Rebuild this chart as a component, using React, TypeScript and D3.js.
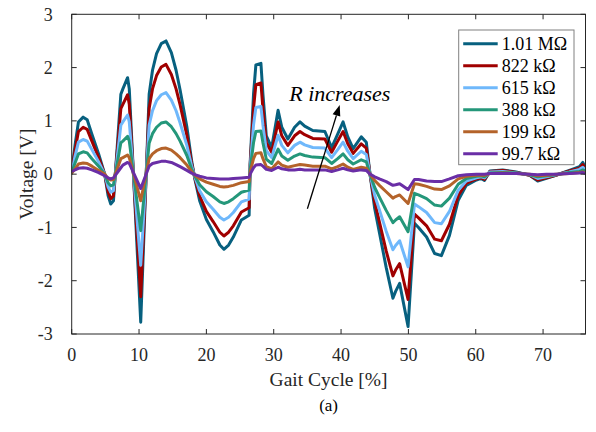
import React from 'react';
import * as d3 from 'd3';

// gait cycle positions (%) shared by all resistor curves
const gait = [0, 0.5, 1, 1.7, 2.3, 3, 4, 4.9, 5.4, 5.8,
  6.2, 7.3, 7.6, 8.3, 8.55, 10.25, 11.5, 12, 12.6, 13.3,
  14, 14.8, 15.5, 16.1, 17.1, 17.8, 18.3, 19, 20, 21,
  22, 22.6, 23.3, 24, 25.2, 26.35, 26.5, 27, 27.35, 28.1,
  28.4, 28.9, 29.7, 30.65, 31.2, 32.1, 33.1, 33.9, 34.6, 35.8,
  37.6, 38.6, 39.5, 40.3, 41.0, 41.8, 43.0, 43.75, 44.3, 45.0,
  45.7, 46.7, 47.7, 48.1, 48.7, 49.95, 50.9, 51.5, 52.7, 53.9,
  54.9, 56.1, 57.4, 58.6, 60.1, 60.8, 61.3, 62.1, 64, 66,
  68, 69.2, 70.5, 71.9, 73.9, 75.4, 75.9, 76.1];

const v1010k = [0.05, 0.55, 0.98, 1.07, 1.02, 0.75, 0.38, 0.0, -0.4, -0.56,
  -0.5, 1.5, 1.6, 1.81, 1.6, -2.78, 1.5, 1.95, 2.26, 2.45,
  2.5, 2.28, 1.95, 1.58, 0.89, 0.26, -0.1, -0.5, -0.85, -1.08,
  -1.33, -1.41, -1.33, -1.18, -0.86, -0.77, 0.2, 1.5, 2.05, 2.08,
  1.5, 0.72, 0.5, 1.2, 0.88, 0.66, 0.88, 0.98, 0.9, 0.82,
  0.8, 0.5, 0.75, 0.98, 0.7, 0.48, 0.7, 0.6, 0.0, -0.65,
  -1.1, -1.75, -2.33, -2.2, -2.05, -2.86, -0.92, -1.0, -1.18, -1.49,
  -1.53, -1.15, -0.49, -0.21, -0.11, -0.08, -0.12, 0.06, 0.08, 0.04,
  -0.02, -0.13, -0.08, -0.02, 0.07, 0.14, 0.22, 0.17];

const v822k = [0.04, 0.45, 0.8, 0.88, 0.84, 0.62, 0.31, 0.0, -0.33, -0.46,
  -0.41, 1.23, 1.31, 1.49, 1.31, -2.3, 1.23, 1.6, 1.85, 2.01,
  2.06, 1.87, 1.6, 1.3, 0.73, 0.21, -0.08, -0.41, -0.7, -0.89,
  -1.09, -1.16, -1.09, -0.97, -0.71, -0.63, 0.16, 1.23, 1.68, 1.71,
  1.23, 0.59, 0.41, 0.98, 0.72, 0.54, 0.72, 0.8, 0.74, 0.67,
  0.66, 0.41, 0.62, 0.8, 0.57, 0.39, 0.57, 0.49, 0.0, -0.53,
  -0.9, -1.44, -1.91, -1.8, -1.68, -2.35, -0.75, -0.82, -0.97, -1.22,
  -1.25, -0.94, -0.4, -0.17, -0.09, -0.07, -0.1, 0.05, 0.07, 0.03,
  -0.02, -0.11, -0.07, -0.02, 0.06, 0.11, 0.18, 0.14];

const v615k = [0.03, 0.34, 0.6, 0.65, 0.62, 0.46, 0.23, 0.0, -0.24, -0.34,
  -0.31, 0.92, 0.98, 1.11, 0.98, -1.71, 0.92, 1.19, 1.38, 1.49,
  1.53, 1.39, 1.19, 0.96, 0.54, 0.16, -0.06, -0.31, -0.52, -0.66,
  -0.81, -0.86, -0.81, -0.72, -0.52, -0.47, 0.12, 0.92, 1.25, 1.27,
  0.92, 0.44, 0.31, 0.73, 0.54, 0.4, 0.54, 0.6, 0.55, 0.5,
  0.49, 0.31, 0.46, 0.6, 0.43, 0.29, 0.43, 0.37, 0.0, -0.4,
  -0.67, -1.07, -1.42, -1.34, -1.25, -1.74, -0.56, -0.61, -0.72, -0.91,
  -0.93, -0.7, -0.3, -0.13, -0.07, -0.05, -0.07, 0.04, 0.05, 0.02,
  -0.01, -0.08, -0.05, -0.01, 0.04, 0.09, 0.13, 0.1];

const v388k = [0.02, 0.21, 0.38, 0.42, 0.4, 0.29, 0.15, 0.0, -0.16, -0.22,
  -0.2, 0.59, 0.62, 0.71, 0.62, -1.06, 0.58, 0.76, 0.88, 0.96,
  0.98, 0.89, 0.76, 0.62, 0.35, 0.1, -0.04, -0.2, -0.33, -0.42,
  -0.52, -0.55, -0.52, -0.46, -0.34, -0.3, 0.08, 0.59, 0.8, 0.81,
  0.59, 0.28, 0.2, 0.47, 0.34, 0.26, 0.34, 0.38, 0.35, 0.32,
  0.31, 0.2, 0.29, 0.38, 0.27, 0.19, 0.27, 0.23, 0.0, -0.25,
  -0.43, -0.68, -0.91, -0.86, -0.8, -1.08, -0.36, -0.39, -0.46, -0.58,
  -0.6, -0.45, -0.19, -0.08, -0.04, -0.03, -0.05, 0.02, 0.03, 0.02,
  -0.01, -0.05, -0.03, -0.01, 0.03, 0.05, 0.08, 0.07];

const v199k = [0.02, 0.1, 0.19, 0.21, 0.2, 0.15, 0.07, 0.0, -0.08, -0.11,
  -0.1, 0.29, 0.31, 0.36, 0.31, -0.5, 0.29, 0.38, 0.44, 0.48,
  0.49, 0.45, 0.38, 0.31, 0.17, 0.05, -0.02, -0.09, -0.15, -0.19,
  -0.23, -0.24, -0.23, -0.21, -0.16, -0.14, 0.04, 0.29, 0.39, 0.4,
  0.29, 0.14, 0.1, 0.23, 0.17, 0.13, 0.16, 0.18, 0.17, 0.15,
  0.15, 0.1, 0.14, 0.19, 0.13, 0.09, 0.13, 0.11, 0.0, -0.12,
  -0.21, -0.33, -0.45, -0.42, -0.39, -0.55, -0.18, -0.19, -0.23, -0.28,
  -0.29, -0.22, -0.09, -0.04, -0.02, -0.02, -0.02, 0.01, 0.02, 0.01,
  0.0, -0.03, -0.02, 0.0, 0.01, 0.03, 0.04, 0.03];

const v99k = [0.05, 0.08, 0.11, 0.12, 0.11, 0.08, 0.03, -0.03, -0.07, -0.09,
  -0.07, 0.12, 0.17, 0.22, 0.2, -0.27, 0.15, 0.2, 0.22, 0.24,
  0.24, 0.22, 0.18, 0.14, 0.07, 0.02, -0.01, -0.04, -0.07, -0.08,
  -0.09, -0.09, -0.09, -0.08, -0.07, -0.06, 0.0, 0.12, 0.17, 0.18,
  0.15, 0.09, 0.07, 0.13, 0.1, 0.08, 0.08, 0.09, 0.08, 0.08,
  0.08, 0.05, 0.08, 0.11, 0.08, 0.06, 0.08, 0.07, 0.0, -0.05,
  -0.09, -0.14, -0.21, -0.2, -0.18, -0.29, -0.1, -0.1, -0.13, -0.14,
  -0.14, -0.09, -0.03, -0.01, 0.0, 0.0, 0.0, 0.01, 0.01, 0.01,
  0.0, -0.01, 0.0, 0.0, 0.01, 0.02, 0.03, 0.02];

const seriesNames = ['1.01 MΩ', '822 kΩ', '615 kΩ', '388 kΩ', '199 kΩ', '99.7 kΩ'];
const seriesValues = [v1010k, v822k, v615k, v388k, v199k, v99k];
const seriesColors = ['#07607f', '#a00000', '#6fb8fb', '#24977a', '#b4632a', '#6a2ea6'];

const xTicks = [0, 10, 20, 30, 40, 50, 60, 70];
const yTicks = [-3, -2, -1, 0, 1, 2, 3];

const FONT = "'Times New Roman', 'Liberation Serif', 'DejaVu Serif', serif";

export default function App() {
  const width = 596, height = 432;
  const left = 71.7, right = 585.5, top = 14.3, bottom = 334;

  const x = d3.scaleLinear().domain([0, 76.3]).range([left, right]);
  const y = d3.scaleLinear().domain([-3, 3]).range([bottom, top]);

  const line = d3.line<number>()
    .x((_, i) => x(gait[i]))
    .y(d => y(d));

  // annotation arrow, in data units
  const tail = [35, -0.65];
  const head = [39.8, 1.3];
  const hx = x(head[0]), hy = y(head[1]);
  const ang = Math.atan2(hy - y(tail[1]), hx - x(tail[0]));
  const aLen = 11, aHalf = 4;
  const bx = hx - aLen * Math.cos(ang), by = hy - aLen * Math.sin(ang);
  const arrowHead = [
    [hx, hy],
    [bx + aHalf * Math.sin(ang), by - aHalf * Math.cos(ang)],
    [bx - aHalf * Math.sin(ang), by + aHalf * Math.cos(ang)],
  ].map(p => p.join(',')).join(' ');

  const legX = 458.7, legY = 30, legW = 115.3, legH = 134.7;
  const txt = { fontFamily: FONT };

  return (
    <svg width={width} height={height} style={{ position: 'absolute', left: 0, top: 0, background: '#fff' }}>
      <defs>
        <clipPath id="plotClip">
          <rect x={left} y={top} width={right - left} height={bottom - top} />
        </clipPath>
      </defs>

      <g clipPath="url(#plotClip)">
        {seriesValues.map((vals, i) => (
          <path key={i} d={line(vals) || ''} fill="none" stroke={seriesColors[i]}
            strokeWidth={3} strokeLinejoin="round" strokeLinecap="round" />
        ))}
      </g>

      {/* axes box */}
      <rect x={left} y={top} width={right - left} height={bottom - top} fill="none" stroke="#262626" strokeWidth={1} />
      {xTicks.map(t => (
        <g key={'x' + t}>
          <line x1={x(t)} x2={x(t)} y1={bottom} y2={bottom - 5} stroke="#262626" />
          <line x1={x(t)} x2={x(t)} y1={top} y2={top + 5} stroke="#262626" />
          <text x={x(t)} y={bottom + 27} textAnchor="middle" fontSize={18} fill="#262626" style={txt}>{t}</text>
        </g>
      ))}
      {yTicks.map(t => (
        <g key={'y' + t}>
          <line x1={left} x2={left + 5} y1={y(t)} y2={y(t)} stroke="#262626" />
          <line x1={right} x2={right - 5} y1={y(t)} y2={y(t)} stroke="#262626" />
          <text x={left - 19} y={y(t)} dy="0.35em" textAnchor="end" fontSize={18} fill="#262626" style={txt}>{t}</text>
        </g>
      ))}

      <text x={(left + right) / 2} y={386} textAnchor="middle" fontSize={19.5} fill="#262626" style={txt}>Gait Cycle [%]</text>
      <text x={(left + right) / 2} y={411} textAnchor="middle" fontSize={17} fill="#000" style={txt}>(a)</text>
      <text transform={`translate(33,${y(0)}) rotate(-90)`} textAnchor="middle" fontSize={19.5} fill="#262626" style={txt}>Voltage [V]</text>

      {/* annotation */}
      <line x1={x(tail[0])} y1={y(tail[1])} x2={bx} y2={by} stroke="#000" strokeWidth={1.3} />
      <polygon points={arrowHead} fill="#000" />
      <text x={x(32.3)} y={y(1.37)} fontSize={22} fontStyle="italic" fill="#000" style={txt}>R increases</text>

      {/* legend */}
      <rect x={legX} y={legY} width={legW} height={legH} fill="#fff" stroke="#808080" strokeWidth={1} />
      {seriesNames.map((name, i) => {
        const cy = legY + 13.7 + i * 22;
        return (
          <g key={name}>
            <line x1={legX + 4.5} x2={legX + 39} y1={cy} y2={cy} stroke={seriesColors[i]} strokeWidth={3} />
            <text x={legX + 43} y={cy} dy="0.35em" fontSize={18} fill="#000" style={txt}>{name}</text>
          </g>
        );
      })}
    </svg>
  );
}
